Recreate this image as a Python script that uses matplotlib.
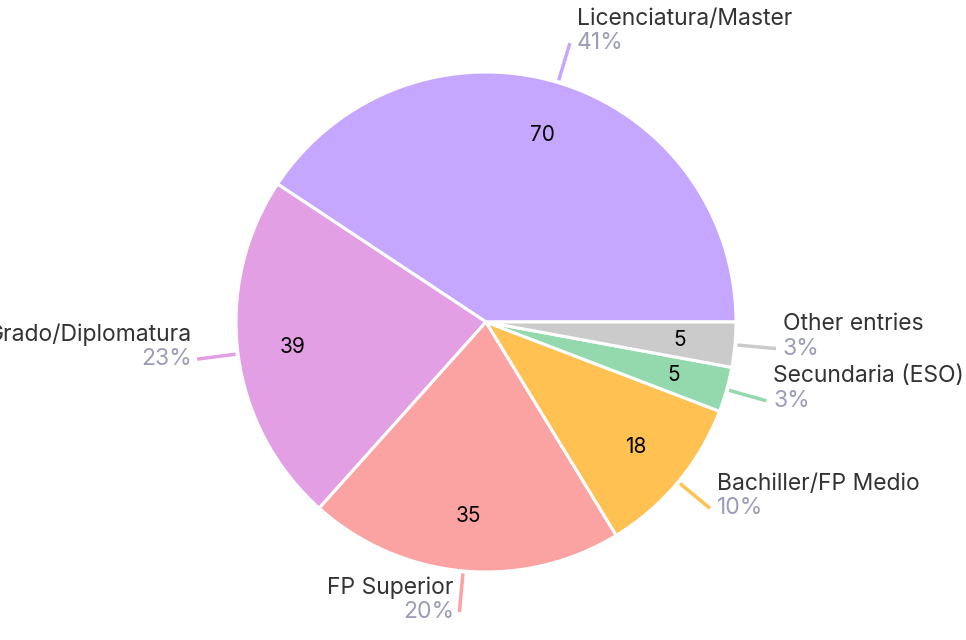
import matplotlib
matplotlib.use("Agg")
import matplotlib.pyplot as plt
import numpy as np

# data
labels = ["Licenciatura/Master", "Grado/Diplomatura", "FP Superior",
          "Bachiller/FP Medio", "Secundaria (ESO)", "Other entries"]
values = [70, 39, 35, 18, 5, 5]
colors = ["#c6a7ff", "#e29fe3", "#fba3a3", "#ffc152", "#94d9ad", "#cbcbcb"]

plt.rcParams['font.family'] = ['Inter', 'DejaVu Sans']

W, H = 966, 640
fig = plt.figure(figsize=(W / 100, H / 100), dpi=100)
# pie centre at (486, 322) px from top-left, radius 250 px
cx, cy, r = 486, 322, 250
ax = fig.add_axes([(cx - r) / W, (H - cy - r) / H, 2 * r / W, 2 * r / H])

total = sum(values)
wedges, _ = ax.pie(values, colors=colors, startangle=0, counterclock=True,
                   radius=1, wedgeprops=dict(edgecolor="white", linewidth=2.2))
ax.set_xlim(-1, 1)
ax.set_ylim(-1, 1)
ax.set_aspect("equal")
ax.axis("off")

for w, lab, val, col in zip(wedges, labels, values, colors):
    mid = np.deg2rad((w.theta1 + w.theta2) / 2)
    c, s = np.cos(mid), np.sin(mid)
    # value inside slice
    ax.text(0.78 * c, 0.78 * s, str(val), ha="center", va="center",
            fontsize=15, color="black")
    # leader line
    ax.plot([1.01 * c, 1.165 * c], [1.01 * s, 1.165 * s], color=col,
            lw=2.5, solid_capstyle="butt", clip_on=False)
    xe, ye = 1.165 * c, 1.165 * s
    if c >= 0:
        ha, dx = "left", 5
    else:
        ha, dx = "right", -4
    pct = round(val / total * 100)
    ax.annotate(lab, (xe, ye), xytext=(dx, 17.5), textcoords="offset points",
                ha=ha, va="center", fontsize=16.5, color="#333333",
                annotation_clip=False)
    ax.annotate(f"{pct}%", (xe, ye), xytext=(dx, 0), textcoords="offset points",
                ha=ha, va="center", fontsize=16.5, color="#9c9cb8",
                annotation_clip=False)

fig.savefig("out.png", dpi=100)
